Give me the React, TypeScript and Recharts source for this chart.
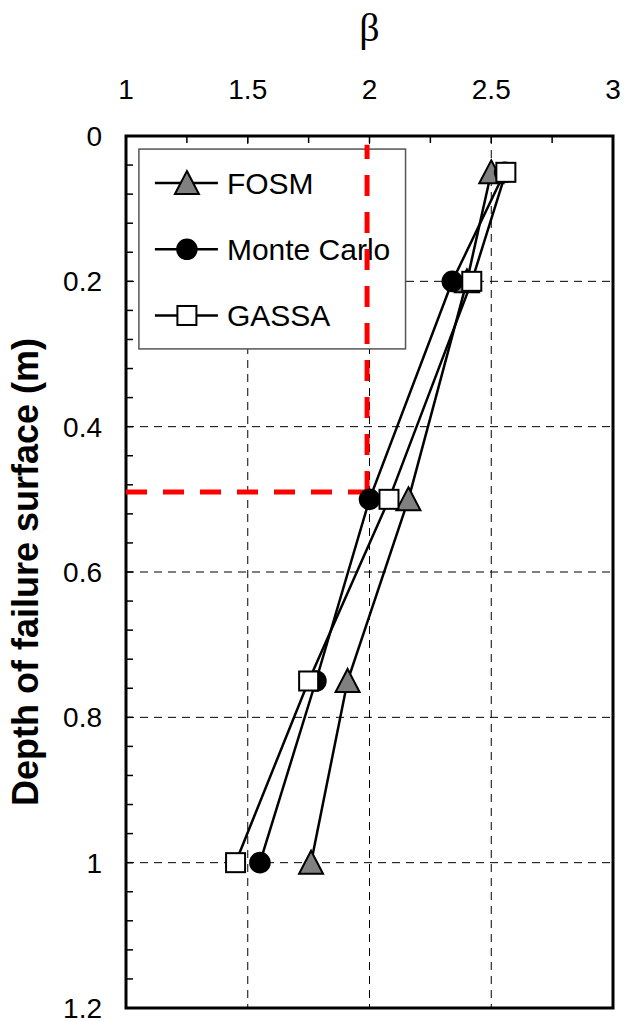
import { ScatterChart, Scatter, XAxis, YAxis, CartesianGrid, ReferenceLine, ReferenceArea } from 'recharts'

const DEPTH = [0.05, 0.2, 0.5, 0.75, 1.0]
const FOSM = [2.5, 2.4, 2.16, 1.91, 1.76]
const MONTE_CARLO = [2.555, 2.34, 2.0, 1.78, 1.55]
const GASSA = [2.56, 2.42, 2.08, 1.75, 1.45]

const X_TICKS = [1, 1.25, 1.5, 1.75, 2, 2.25, 2.5, 2.75, 3]
const X_LABELS = [1, 1.5, 2, 2.5, 3]
const Y_TICKS = [
    0, 0.04, 0.08, 0.12, 0.16, 0.2, 0.24, 0.28, 0.32, 0.36, 0.4, 0.44, 0.48, 0.52, 0.56, 0.6,
    0.64, 0.68, 0.72, 0.76, 0.8, 0.84, 0.88, 0.92, 0.96, 1, 1.04, 1.08, 1.12, 1.16, 1.2,
]
const Y_LABELS = [0, 0.2, 0.4, 0.6, 0.8, 1, 1.2]
const X_GRID = [1.5, 2, 2.5]
const Y_GRID = [0.2, 0.4, 0.6, 0.8, 1]

// target reliability index and the depth it is reached at
const TARGET_BETA = 1.99
const TARGET_DEPTH = 0.49

const FONT = '"Liberation Sans", Arial, sans-serif'

const SERIES = [
    { name: 'FOSM', values: FOSM, kind: 'triangle' },
    { name: 'Monte Carlo', values: MONTE_CARLO, kind: 'circle' },
    { name: 'GASSA', values: GASSA, kind: 'square' },
]

const toPoints = (values: number[]) => DEPTH.map((d, i) => ({ beta: values[i], depth: d }))

function Marker({ cx, cy, kind }: { cx: number; cy: number; kind: string }) {
    if (kind === 'triangle') {
        return (
            <polygon
                points={`${cx},${cy - 12} ${cx + 12},${cy + 11} ${cx - 12},${cy + 11}`}
                fill="#808080"
                stroke="#000"
                strokeWidth={2}
            />
        )
    }
    if (kind === 'circle') return <circle cx={cx} cy={cy} r={10.8} fill="#000" />
    return <rect x={cx - 9.5} y={cy - 9.5} width={19} height={19} fill="#fff" stroke="#000" strokeWidth={2} />
}

function LegendBox(props: any) {
    const { x, y, width, height } = props
    return (
        <g>
            <rect x={x} y={y} width={width} height={height} fill="#fff" stroke="#555" strokeWidth={1.5} />
            {SERIES.map((s, i) => {
                const cy = y + 34 + i * 66.2
                return (
                    <g key={s.name}>
                        <line x1={x + 16} x2={x + 79} y1={cy} y2={cy} stroke="#000" strokeWidth={2.5} />
                        <Marker cx={x + 48} cy={cy} kind={s.kind} />
                        <text x={x + 88} y={cy + 11} fontSize={30} fontFamily={FONT} fill="#000">
                            {s.name}
                        </text>
                    </g>
                )
            })}
        </g>
    )
}

export default function App() {
    return (
        <div style={{ position: 'absolute', left: 0, top: 0, width: 629, height: 1021, background: '#fff' }}>
            <ScatterChart width={629} height={1021} margin={{ top: 0, right: 16, bottom: 13, left: 0 }}>
                <CartesianGrid
                    horizontalValues={Y_GRID}
                    verticalValues={X_GRID}
                    stroke="#000"
                    strokeDasharray="8 6"
                    strokeWidth={1}
                />
                <XAxis
                    type="number"
                    dataKey="beta"
                    orientation="top"
                    domain={[1, 3]}
                    ticks={X_TICKS}
                    interval={0}
                    height={136}
                    allowDataOverflow
                    axisLine={false}
                    tickSize={-7}
                    tickMargin={44}
                    tickLine={{ stroke: '#000', strokeWidth: 1.5 }}
                    tick={{ fill: '#000', fontSize: 28, fontFamily: FONT }}
                    tickFormatter={(v: number) => (X_LABELS.includes(v) ? String(v) : '')}
                    label={{
                        value: 'β',
                        position: 'insideTop',
                        offset: 13,
                        fontSize: 40,
                        fontFamily: '"Liberation Serif", "Times New Roman", serif',
                        fill: '#000',
                    }}
                />
                <YAxis
                    type="number"
                    dataKey="depth"
                    reversed
                    domain={[0, 1.2]}
                    ticks={Y_TICKS}
                    interval={0}
                    width={126}
                    allowDataOverflow
                    axisLine={false}
                    tickSize={-7}
                    tickMargin={31}
                    tickLine={{ stroke: '#000', strokeWidth: 1.5 }}
                    tick={{ fill: '#000', fontSize: 28, fontFamily: FONT }}
                    tickFormatter={(v: number) => (Y_LABELS.includes(v) ? String(v) : '')}
                    label={{
                        value: 'Depth of failure surface (m)',
                        angle: -90,
                        position: 'insideLeft',
                        offset: 25,
                        fontSize: 36,
                        fontWeight: 'bold',
                        fontFamily: FONT,
                        fill: '#000',
                        style: { textAnchor: 'middle' },
                    }}
                />
                <ReferenceArea
                    x1={1}
                    x2={3}
                    y1={0}
                    y2={1.2}
                    fill="none"
                    fillOpacity={0}
                    stroke="#000"
                    strokeWidth={3}
                    ifOverflow="visible"
                />
                <ReferenceArea x1={1.053} x2={2.148} y1={0.018} y2={0.293} ifOverflow="visible" shape={LegendBox} />
                <ReferenceLine
                    segment={[
                        { x: 1, y: TARGET_DEPTH },
                        { x: TARGET_BETA, y: TARGET_DEPTH },
                    ]}
                    stroke="#ff0000"
                    strokeWidth={5}
                    strokeDasharray="21 16"
                    ifOverflow="visible"
                />
                <ReferenceLine
                    segment={[
                        { x: TARGET_BETA, y: TARGET_DEPTH },
                        { x: TARGET_BETA, y: 0.012 },
                    ]}
                    stroke="#ff0000"
                    strokeWidth={5}
                    strokeDasharray="21 16"
                    ifOverflow="visible"
                />
                {SERIES.map(s => (
                    <Scatter
                        key={s.name}
                        name={s.name}
                        data={toPoints(s.values)}
                        line={{ stroke: '#000', strokeWidth: 2.5 }}
                        shape={(p: any) => <Marker cx={p.cx} cy={p.cy} kind={s.kind} />}
                        isAnimationActive={false}
                    />
                ))}
            </ScatterChart>
        </div>
    )
}
